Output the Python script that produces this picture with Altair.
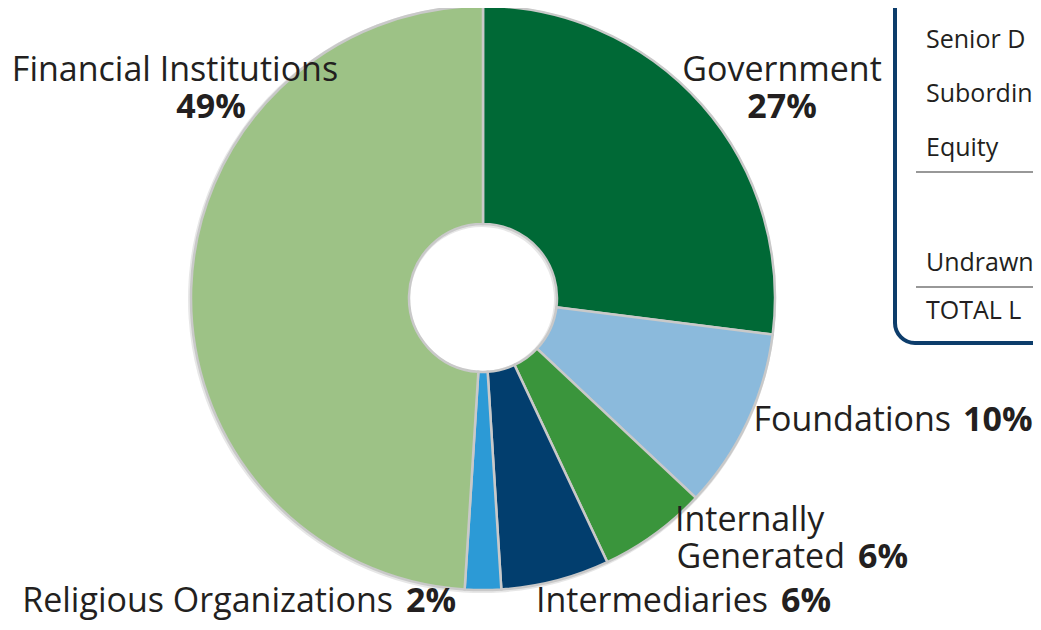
import altair as alt
import pandas as pd

# ---- data ----
categories = ["Government", "Foundations", "Internally Generated",
              "Intermediaries", "Religious Organizations", "Financial Institutions"]
values = [27, 10, 6, 6, 2, 49]
colors = ["#006936", "#8bbadc", "#3a953c", "#023e6e", "#2c9ad6", "#9dc286"]
box_rows = ["Senior D", "Subordin", "Equity", "Undrawn", "TOTAL L"]

W, H = 1025, 614
CX, CY = 475, 290
FONT = "Open Sans"
FS = 34
INK = "#231f20"

df = pd.DataFrame({"category": categories, "value": values,
                   "order": list(range(len(categories)))})
pct = {c: f"{v}%" for c, v in zip(categories, values)}

base = alt.Chart(df)

shadow = base.mark_arc(innerRadius=72, outerRadius=294, color="#c4c4c4",
                       opacity=0.4).encode(
    theta=alt.Theta("value:Q", stack=True),
    order=alt.Order("order:Q"),
    x=alt.value(CX - 1), y=alt.value(CY + 1),
)

donut = base.mark_arc(innerRadius=74, outerRadius=292, stroke="#c9c9c9",
                      strokeWidth=2.5).encode(
    theta=alt.Theta("value:Q", stack=True),
    order=alt.Order("order:Q"),
    color=alt.Color("category:N", scale=alt.Scale(domain=categories, range=colors),
                    legend=None),
    x=alt.value(CX), y=alt.value(CY),
)


def txt(t, x, y, size=FS, bold=False, align="left"):
    return alt.Chart(pd.DataFrame({"t": [t]})).mark_text(
        font=FONT, fontSize=size, fontWeight="bold" if bold else "normal",
        color=INK, align=align, baseline="alphabetic",
    ).encode(text="t:N", x=alt.value(x), y=alt.value(y))


labels = [
    txt("Financial Institutions", 167, 73, align="center"),
    txt(pct["Financial Institutions"], 203, 110, bold=True, align="center"),
    txt("Government", 774, 73, align="center"),
    txt(pct["Government"], 774, 110, bold=True, align="center"),
    txt("Foundations", 943, 423, align="right"),
    txt(pct["Foundations"], 955, 423, bold=True),
    txt("Internally", 667, 523),
    txt("Generated", 837, 560, align="right"),
    txt(pct["Internally Generated"], 850, 560, bold=True),
    txt("Intermediaries", 760, 604, align="right"),
    txt(pct["Intermediaries"], 773, 604, bold=True),
    txt("Religious Organizations", 385, 604, align="right"),
    txt(pct["Religious Organizations"], 398, 604, bold=True),
]

box = alt.Chart(pd.DataFrame({"a": [0]})).mark_rect(
    cornerRadius=20, fillOpacity=0, stroke="#0d3d6b", strokeWidth=4
).encode(x=alt.value(887), x2=alt.value(1120), y=alt.value(-40), y2=alt.value(335))

rules = [
    alt.Chart(pd.DataFrame({"a": [0]})).mark_rule(color="#333333", strokeWidth=1.2).encode(
        x=alt.value(908), x2=alt.value(1040), y=alt.value(yy))
    for yy in (164, 279)
]

box_ys = [40, 94, 148, 263, 311]
box_text = [txt(t, 918, yy, size=25) for t, yy in zip(box_rows, box_ys)]

chart = alt.layer(shadow, donut, box, *rules, *box_text, *labels).properties(
    width=W, height=H, autosize=alt.AutoSizeParams(type="none"), padding=0
).configure_view(stroke=None)

chart.save("out.html", embed_options={"renderer": "svg", "actions": False})
